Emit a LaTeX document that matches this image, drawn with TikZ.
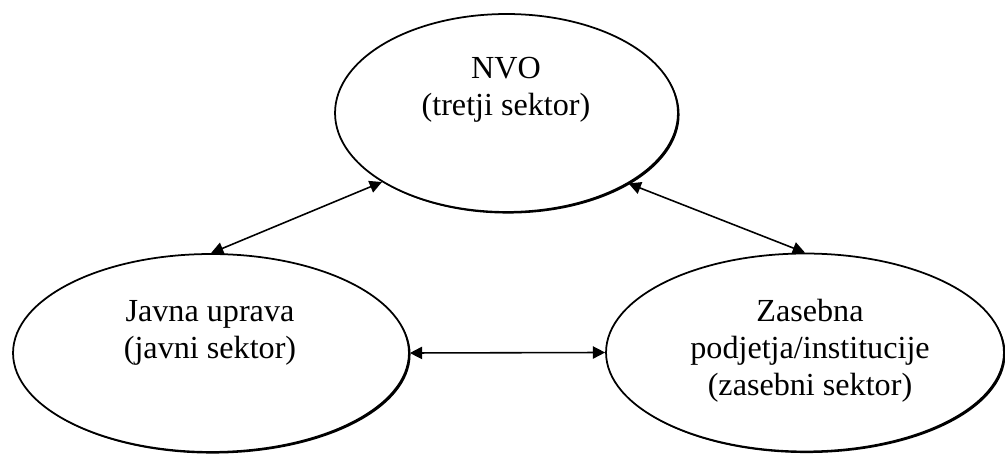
\documentclass[tikz,border=0pt]{standalone}
\usepackage{fontspec}
\setmainfont{Liberation Serif}
\usepackage{tikz}
\usetikzlibrary{shapes.geometric,arrows.meta,shadows}

\tikzset{
  sector/.style={ellipse, draw, line width=1pt, fill=white, inner sep=0pt,
    minimum height=3.96cm,
    drop shadow={shadow xshift=0.9pt, shadow yshift=-0.9pt, fill=black, opacity=1}},
  lbl/.style={align=center, font=\fontsize{18.3pt}{21pt}\selectfont},
  link/.style={{Triangle[length=7pt,width=7pt]}-{Triangle[length=7pt,width=7pt]}, line width=0.9pt}
}

\begin{document}
\begin{tikzpicture}[x=0.02cm,y=-0.02cm]
    \useasboundingbox (0,0) rectangle (1005,455);
    \node[sector, minimum width=6.86cm] (nvo) at (506.5,113) {};
    \node[sector, minimum width=7.92cm] (javna) at (211,353) {};
    \node[sector, minimum width=7.96cm] (zasebna) at (805,352.5) {};
    \node[lbl] (nvotxt) at (506,89.5) {NVO\\(tretji sektor)};
    \node[lbl] (javnatxt) at (210,332.5) {Javna uprava\\(javni sektor)};
    \node[lbl] (zasebnatxt) at (810,350.5) {Zasebna\\podjetja/institucije\\(zasebni sektor)};
    \draw [link](javna.north)--(nvo.209.5);
    \draw [link](nvo.330.4)--(zasebna.north);
    \draw [link](javna.east)--(zasebna.west);
\end{tikzpicture}
\end{document}
